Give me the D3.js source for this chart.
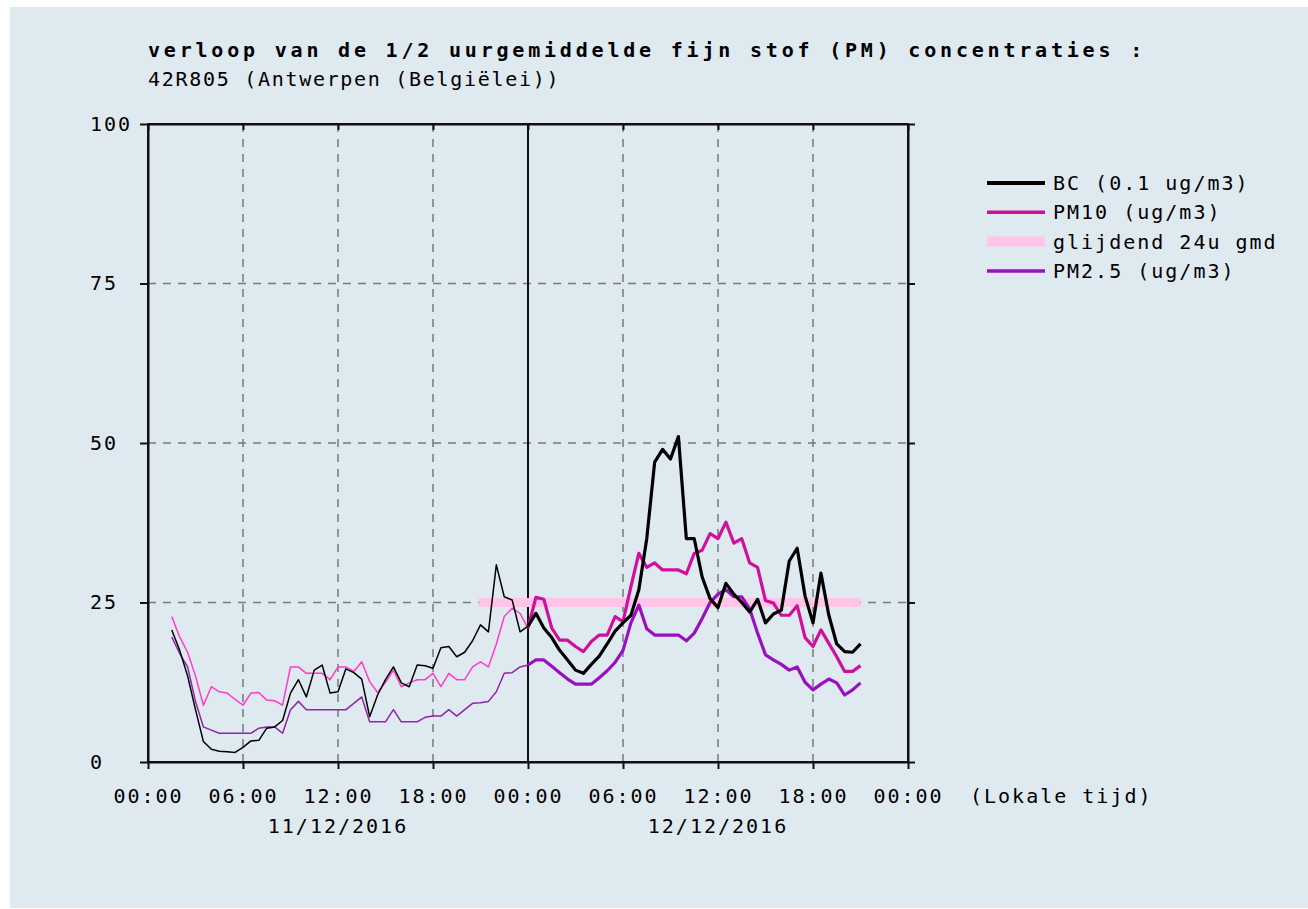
<!DOCTYPE html>
<html>
<head>
<meta charset="utf-8">
<script src="https://cdn.jsdelivr.net/npm/d3@7"></script>
<style>
  html, body { margin: 0; padding: 0; background: #fff; }
  text { font-family: "DejaVu Sans Mono", monospace; font-size: 20px; fill: #000; letter-spacing: 2px; }
</style>
</head>
<body>
<div id="chart"></div>
<script>
// hours since 11/12/2016 00:00, value
const bc = [
  [1.5,20.7],[2,17.5],[2.5,13.5],[3,8.2],[3.5,3.2],[4,2.0],[4.5,1.7],[5,1.6],[5.5,1.5],[6,2.3],
  [6.5,3.3],[7,3.4],[7.5,5.3],[8,5.5],[8.5,6.5],[9,10.8],[9.5,12.9],[10,10.2],[10.5,14.4],[11,15.2],
  [11.5,10.8],[12,11.0],[12.5,14.6],[13,14.0],[13.5,13.0],[14,7.1],[14.5,10.5],[15,12.9],[15.5,14.9],[16,12.4],
  [16.5,11.8],[17,15.2],[17.5,15.1],[18,14.7],[18.5,17.9],[19,18.1],[19.5,16.5],[20,17.2],[20.5,19.0],[21,21.5],
  [21.5,20.4],[22,30.9],[22.5,25.9],[23,25.4],[23.5,20.4],[24,21.3],
  [24.5,23.3],[25,21.0],[25.5,19.5],[26,17.5],[26.5,16.0],[27,14.4],[27.5,13.9],[28,15.3],[28.5,16.6],[29,18.5],
  [29.5,20.5],[30,21.8],[30.5,23.0],[31,27.0],[31.5,35.0],[32,47.0],[32.5,49.0],[33,47.5],[33.5,51.0],[34,35.0],
  [34.5,35.0],[35,29.0],[35.5,25.6],[36,24.2],[36.5,28.0],[37,26.3],[37.5,25.0],[38,23.5],[38.5,25.5],[39,21.8],
  [39.5,23.2],[40,23.8],[40.5,31.5],[41,33.5],[41.5,26.0],[42,21.8],[42.5,29.6],[43,23.0],[43.5,18.5],[44,17.3],
  [44.5,17.2],[45,18.5]
];

const pm10 = [
  [1.5,22.8],[2,19.6],[2.5,17.2],[3,13.5],[3.5,8.9],[4,11.8],[4.5,11.0],[5,10.8],[5.5,9.8],[6,8.9],
  [6.5,10.8],[7,10.9],[7.5,9.7],[8,9.6],[8.5,8.9],[9,14.9],[9.5,14.9],[10,13.9],[10.5,13.9],[11,13.9],
  [11.5,12.9],[12,14.9],[12.5,14.9],[13,14.2],[13.5,15.7],[14,12.6],[14.5,10.9],[15,12.5],[15.5,14.4],[16,11.8],
  [16.5,12.4],[17,12.9],[17.5,12.9],[18,13.9],[18.5,11.8],[19,13.9],[19.5,12.9],[20,12.9],[20.5,14.9],[21,15.7],
  [21.5,14.9],[22,18.5],[22.5,22.8],[23,24.1],[23.5,23.3],[24,21.0],
  [24.5,25.8],[25,25.5],[25.5,21.0],[26,19.1],[26.5,19.1],[27,18.1],[27.5,17.3],[28,18.9],[28.5,19.9],[29,19.9],
  [29.5,22.8],[30,22.0],[30.5,27.5],[31,32.7],[31.5,30.5],[32,31.2],[32.5,30.1],[33,30.1],[33.5,30.1],[34,29.5],
  [34.5,32.7],[35,33.2],[35.5,35.8],[36,35.0],[36.5,37.6],[37,34.3],[37.5,35.0],[38,31.2],[38.5,30.5],[39,25.3],
  [39.5,24.9],[40,23.0],[40.5,23.0],[41,24.5],[41.5,19.5],[42,18.1],[42.5,20.7],[43,18.6],[43.5,16.5],[44,14.2],
  [44.5,14.2],[45,15.1]
];

const pm25 = [
  [1.5,19.6],[2,17.0],[2.5,14.9],[3,9.5],[3.5,5.5],[4,5.0],[4.5,4.5],[5,4.5],[5.5,4.5],[6,4.5],
  [6.5,4.5],[7,5.3],[7.5,5.5],[8,5.5],[8.5,4.5],[9,8.2],[9.5,9.5],[10,8.2],[10.5,8.2],[11,8.2],
  [11.5,8.2],[12,8.2],[12.5,8.2],[13,9.2],[13.5,10.2],[14,6.3],[14.5,6.3],[15,6.3],[15.5,8.2],[16,6.3],
  [16.5,6.3],[17,6.3],[17.5,7.0],[18,7.2],[18.5,7.2],[19,8.2],[19.5,7.2],[20,8.2],[20.5,9.2],[21,9.3],
  [21.5,9.5],[22,11.0],[22.5,13.9],[23,14.0],[23.5,14.9],[24,15.2],
  [24.5,16.0],[25,16.0],[25.5,15.0],[26,14.0],[26.5,13.0],[27,12.2],[27.5,12.2],[28,12.2],[28.5,13.2],[29,14.3],
  [29.5,15.6],[30,17.5],[30.5,21.8],[31,24.6],[31.5,20.9],[32,19.9],[32.5,19.9],[33,19.9],[33.5,19.9],[34,19.0],
  [34.5,20.2],[35,22.5],[35.5,25.0],[36,26.3],[36.5,27.0],[37,25.9],[37.5,25.9],[38,24.0],[38.5,20.2],[39,16.8],
  [39.5,16.0],[40,15.3],[40.5,14.4],[41,14.9],[41.5,12.5],[42,11.3],[42.5,12.2],[43,13.0],[43.5,12.4],[44,10.5],
  [44.5,11.3],[45,12.4]
];

const rolling24 = [[20.9,25],[24,25],[28,25],[32,25],[36,25],[40,25],[45,25]];

const hourTicks = [0, 6, 12, 18, 24, 30, 36, 42, 48];
const valueTicks = [0, 25, 50, 75, 100];
const dayLabels = [[12, "11/12/2016"], [36, "12/12/2016"]];

const legendItems = [
  { label: "BC (0.1 ug/m3)", color: "#000000", width: 4 },
  { label: "PM10 (ug/m3)", color: "#d0109c", width: 3.5 },
  { label: "glijdend 24u gmd", color: "#ffc4e8", width: 10 },
  { label: "PM2.5 (ug/m3)", color: "#9a0fbf", width: 3.5 }
];

const titleText = "verloop van de 1/2 uurgemiddelde fijn stof (PM) concentraties :";
const subtitleText = "42R805 (Antwerpen (Belgiëlei))";

const W = 1308, H = 909;
const plot = { left: 148, right: 908, top: 124, bottom: 762 };

const svg = d3.select("#chart")
  .append("svg")
  .attr("width", W)
  .attr("height", H);

svg.append("rect").attr("width", W).attr("height", H).attr("fill", "#ffffff");
svg.append("rect")
  .attr("x", 10).attr("y", 7)
  .attr("width", W - 10).attr("height", 901)
  .attr("fill", "#dfe9f0");

const x = d3.scaleLinear().domain([0, 48]).range([plot.left, plot.right]);
const y = d3.scaleLinear().domain([0, 100]).range([plot.bottom, plot.top]);

// titles
svg.append("text")
  .attr("x", 148).attr("y", 57)
  .style("font-weight", "bold")
  .style("letter-spacing", "3.8px")
  .text(titleText);

svg.append("text")
  .attr("x", 148).attr("y", 86)
  .style("letter-spacing", "1.7px")
  .text(subtitleText);

// grid
const grid = svg.append("g");
grid.selectAll(".hgrid")
  .data(valueTicks.filter(v => v > 0 && v < 100))
  .enter().append("line")
  .attr("x1", plot.left).attr("x2", plot.right)
  .attr("y1", d => y(d)).attr("y2", d => y(d))
  .attr("stroke", "#7a7a7a").attr("stroke-width", 1.5)
  .attr("stroke-dasharray", "8,7");

grid.selectAll(".vgrid")
  .data(hourTicks.filter(h => h > 0 && h < 48 && h !== 24))
  .enter().append("line")
  .attr("x1", d => x(d)).attr("x2", d => x(d))
  .attr("y1", plot.top).attr("y2", plot.bottom)
  .attr("stroke", "#7a7a7a").attr("stroke-width", 1.5)
  .attr("stroke-dasharray", "8,7");

// midnight separator
grid.append("line")
  .attr("x1", x(24)).attr("x2", x(24))
  .attr("y1", plot.top).attr("y2", plot.bottom)
  .attr("stroke", "#111").attr("stroke-width", 2);

// axes
const fmtHour = h => String(h % 24).padStart(2, "0") + ":00";

svg.append("g")
  .attr("transform", `translate(0,${plot.bottom})`)
  .call(d3.axisBottom(x).tickValues(hourTicks).tickSize(7).tickSizeOuter(0).tickPadding(20).tickFormat(fmtHour));

svg.append("g")
  .attr("transform", `translate(0,${plot.top})`)
  .call(d3.axisTop(x).tickValues(hourTicks).tickSize(-6).tickSizeOuter(0).tickFormat(""));

const yAxis = svg.append("g")
  .attr("transform", `translate(${plot.left},0)`)
  .call(d3.axisLeft(y).tickValues(valueTicks).tickSize(8).tickSizeOuter(0));

yAxis.selectAll("text")
  .attr("x", 90 - plot.left)
  .attr("dy", "0.3em")
  .attr("text-anchor", "start");

svg.append("g")
  .attr("transform", `translate(${plot.right},0)`)
  .call(d3.axisRight(y).tickValues(valueTicks).tickSize(7).tickSizeOuter(0).tickFormat(""));

svg.selectAll(".domain, .tick line")
  .style("stroke", "#111")
  .style("stroke-width", 2);

svg.selectAll(".tick text")
  .style("font-family", "\"DejaVu Sans Mono\", monospace")
  .style("font-size", "20px")
  .style("fill", "#000");

svg.append("text")
  .attr("x", 970).attr("y", 803)
  .text("(Lokale tijd)");

svg.selectAll(".daylabel")
  .data(dayLabels)
  .enter().append("text")
  .attr("x", d => x(d[0]))
  .attr("y", 833)
  .attr("text-anchor", "middle")
  .text(d => d[1]);

// lines
const line = d3.line()
  .x(d => x(d[0]))
  .y(d => y(d[1]));

const marks = svg.append("g");

marks.append("path")
  .attr("d", line(rolling24))
  .attr("fill", "none")
  .attr("stroke", "#ffc4e8")
  .attr("stroke-width", 9);

// first day drawn thin, second day thick
const seriesDefs = [
  { data: pm25, thin: "#9222ad", thick: "#9a0fbf" },
  { data: pm10, thin: "#ff3cc8", thick: "#d0109c" },
  { data: bc, thin: "#000000", thick: "#000000" }
];

seriesDefs.forEach(s => {
  marks.append("path")
    .attr("d", line(s.data.filter(d => d[0] <= 24)))
    .attr("fill", "none")
    .attr("stroke", s.thin)
    .attr("stroke-width", 1.5)
    .attr("stroke-linejoin", "round");
  marks.append("path")
    .attr("d", line(s.data.filter(d => d[0] >= 24)))
    .attr("fill", "none")
    .attr("stroke", s.thick)
    .attr("stroke-width", 3.2)
    .attr("stroke-linejoin", "round");
});

// frame on top
svg.append("rect")
  .attr("x", plot.left).attr("y", plot.top)
  .attr("width", plot.right - plot.left).attr("height", plot.bottom - plot.top)
  .attr("fill", "none")
  .attr("stroke", "#111").attr("stroke-width", 2);

// legend
const legend = svg.append("g");
legendItems.forEach((item, i) => {
  const ly = 183 + i * 29.3;
  legend.append("line")
    .attr("x1", 987).attr("x2", 1045)
    .attr("y1", ly).attr("y2", ly)
    .attr("stroke", item.color)
    .attr("stroke-width", item.width);
  legend.append("text")
    .attr("x", 1053).attr("y", ly)
    .attr("dy", "0.35em")
    .text(item.label);
});
</script>
</body>
</html>
